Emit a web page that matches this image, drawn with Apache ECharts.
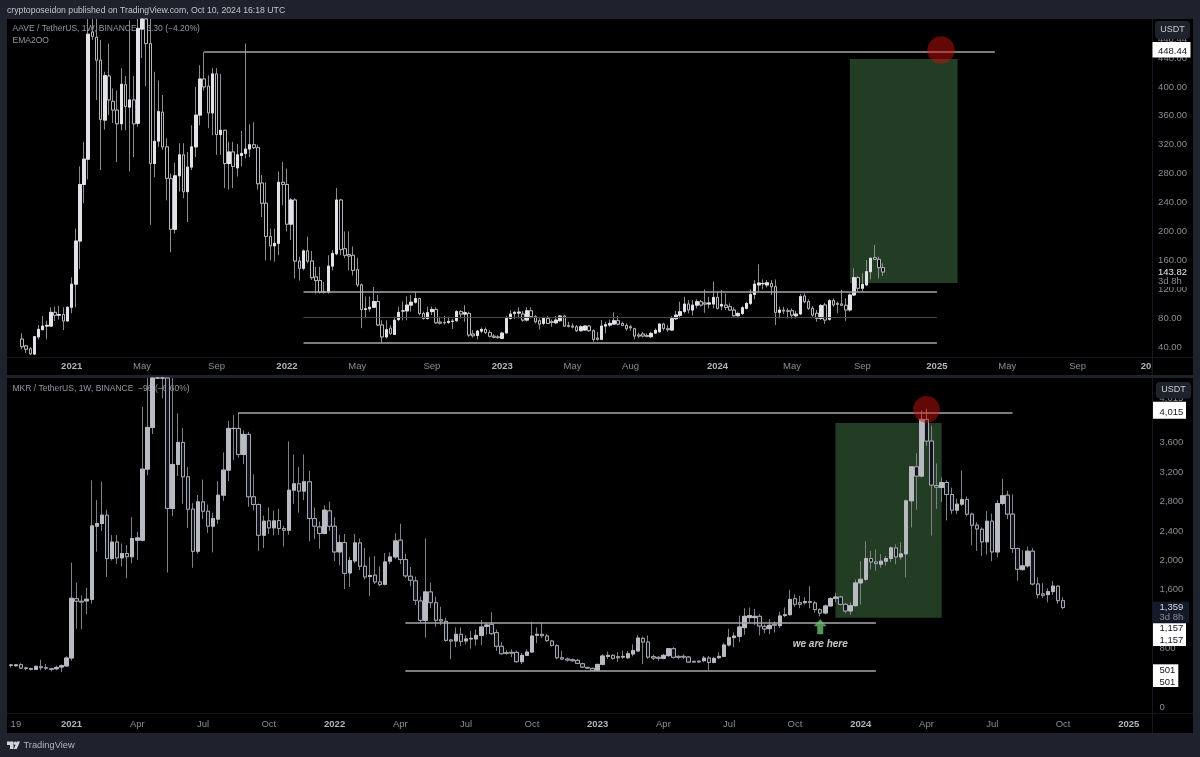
<!DOCTYPE html>
<html><head><meta charset="utf-8">
<style>html,body{margin:0;padding:0;background:#1e222d}#c{width:1200px;height:757px}</style>
<script src="https://cdn.jsdelivr.net/npm/echarts@6/dist/echarts.min.js"></script>
</head><body><div id="c"></div>
<script>
// [open, close, low, high], one weekly bar per row
const aaveAxisStart = '2020-09-21', aaveAxisWeeks = 276, aaveFirstBar = '2020-10-12';
const mkrAxisStart = '2020-10-12', mkrAxisWeeks = 226, mkrFirstBar = '2020-10-12';
const aaveCandles = [
[51,40.5,36.8,59],[41.5,37,32,43],[37.5,30.5,29,40],[30.3,54.3,29,54.5],[54,64.5,50.6,70.5],[64,69,63.5,83],[69,70,50.6,76.5],[69,88,68,95],[88,84,76,96],[84,85,78,96.8],[85,76,63.5,95],[76,95,76,96],[95,127,86.6,136.4],[127,186.7,95,204],[186.7,265,148,290],[265,300,239,324],[300,473,272,530],[476,470,465,540],[468.6,437,382,520],[437,355,285,465],[354,415.6,341,421],[415,382,361,460],[380,368,350,398],[368,349,296,395],[349,403.6,340,425.7],[403,373,340,415],[372,382,283,492],[382,349,303,415],[349.6,481,345,530],[480,510,440,560],[510,460,401,600],[460,294,209,520],[294,324.7,275,421],[325,365.8,317,409],[365,317,313,389],[317,273.5,243,329],[273,203,171,280],[203,277,197,295],[277,306,255,322],[306,255,246,322],[255,289,213,310],[289,317,285,347],[317,361,303,400],[361,411,347,430],[411,400,395,448.4],[401,364,343,416],[364,418,333,426],[418,334,306,426],[334,340,306,418],[340,294,260,340],[294,310,258,324],[310,290,260,324],[288,306,276,321],[305,308,290,339],[308,314,301,460],[314,320,303,348],[320,316,314,351],[316,266,258,320],[267,239,220,278],[239,193,160,268],[193,180,160,204],[180,183.5,158,204],[183.5,268,167,283],[268,265,236,296],[265,210,200,287],[210,243.5,188,246],[243.5,159,135,246],[159,149,132,165],[149,173,146,175],[173,159,156,193],[159,136,133,173],[137,132,114,151],[132,116,114,151],[117,116,114,130],[116,152,114,167],[152,169.6,146,174],[169,243.5,167,260],[243.5,175,167,245],[176,167,163,200],[168,166,146,200],[167,146,139,179],[147,126,123,163],[126,92,66,128],[92,93,80,110],[93,95,89,110],[95,103,95,123],[103,70.5,69,112],[70.5,54,46,77],[54,64,52,77],[66,59,56.5,70],[57.5,77,57,82],[78,88,76,96],
[90,90,77,103],[90,98,77,110],[98,102,89,112],[102,107,100,116.5],[107,86.5,84,108],[86.5,79.6,78,89],[79.6,87.5,78,96],[89,92,84,96],[92,73.6,71.8,95],[74.5,73,71,82],[74,73.6,71,83],[74,75.5,72,82],[75.5,75.8,65,79],[76.5,89,75,91],[89,85.6,79.6,91],[85.6,87.5,75,98],[86.5,56.6,54,89],[58,55.6,53,63.5],[56,62,50.6,63.5],[62,64.4,59,67],[64.4,60,58,67],[60,55,53,63.5],[55,53.5,52,58],[54,53,51.5,56.6],[52,59.3,51,61],[59.5,79.6,59,83],[79.6,85.6,78,91],[86.5,88,78.7,90],[87,88.4,79.6,95],[85.6,77.3,75,90],[77.3,90.2,75.5,95],[90.2,82,79.6,95],[82,75,72.7,84.2],[76.4,71.8,64.4,79.6],[72.7,79.6,70.4,82],[79.6,72.7,71.8,83],[75,74,68,78],[73.6,77.3,71.8,83],[76.4,82.9,75,84],[82.9,69,68,84],[70,68.6,67,75],[69,67.6,65.8,72.7],[68,62.6,60.7,70.4],[62.6,68,61.6,70],[63.5,69,63,70],[69,62.6,61,70.4],[62.6,50.6,47.3,64.4],[52.4,50.6,48.7,61],[50.6,69,49.7,77.3],[69,70.9,58.9,75],[70.4,72.7,68,78],[71.8,76.4,70.9,88],[76.4,71.8,70,83],[72.7,70,69,75],[70,65.3,62.6,72.7],[68,66.7,62.6,70.4],[65.3,55.2,50.6,66.7],[56.6,55.2,52.4,59.8],[58,55.2,53.3,60.7],[56,54.7,53.3,58.9],[54.3,58.9,52.4,61],[59.3,63,58,65.8],[61,71.8,59.8,72.7],[71.8,65.8,62.6,73.6],[65.3,64,61,70.4],[63.5,79.2,62,82.9],[79.2,84.2,77.3,90.2],[83.8,88.9,79.6,102.7],[89.3,99.5,86.5,109.6],[99.5,91.2,86.5,105],[91.2,98,83.8,105],[98,102.7,93.5,106],[102.7,98,95.8,105],[101,99.5,87.5,119.8],[99.5,101,93.5,109.6],[99.5,108.7,93.5,130.4],[108.7,93.5,92,116.5],[96.7,99,91.2,118.8],[98,94.8,91,114],[95.8,91.2,90.2,100.4],[91.2,83.3,82,94.8],[83.3,86.5,82,88.9],[86.5,94.4,84.2,96.7],[93.5,100.4,92,102.7],[100.4,112.8,98,119.8],[112.8,127,106,132.7],[126,128.5,116.5,154.4],[127.5,128,119.8,133.6],[125.8,129,122.5,132.7],[128,123.5,111.9,132.7],[123.5,88,70.4,133.6],[88,91.2,79.6,95.8],[91,89.8,85.6,95.8],[90,89.8,79.6,93.5],[90.2,84.2,79.6,93.5],[83.3,85.6,79.6,90.2],
[85.7,109.7,84.3,113.4],[110.6,102.8,100.5,114.3],[102.8,93.6,91.3,106],[93.6,84.4,82.1,96.8],[86.7,79.7,75.1,91.3],[79.7,97.3,77.4,99.6],[98.2,77.4,71.9,101.4],[78.4,104.2,76.5,106],[104.2,98.2,95.9,107.4],[100.5,99.1,86.7,102.8],[99.6,97.8,96.8,119],[97.8,91.3,76.5,107.4],[91.3,112,89,114.3],[112,136,110.6,149],[136,121.3,116.7,138.3],[121.3,126.8,116.7,142],[125.9,144.3,124.5,160.5],[144.3,162.8,133.7,164.2],[163.7,161.4,160.5,181.2],[161.4,149.9,135,165],[149.9,143.82,138.3,155.9]
];
const mkrCandles = [
[575,577,541,586],[568,580,555,590],[582,536,523,600],[538,530,505,555],[530,518,505,543],[518,559,510,572],[555,541,505,650],[541,535,510,590],[527,518,490,540],[527,545,505,570],[550,568,480,585],[565,673,550,695],[673,1485,635,1970],[1480,1445,1070,1700],[1445,1435,1065,1525],[1450,1472,1270,1630],[1470,2470,1415,3090],[2466,2502,2120,2820],[2502,2616,2400,3070],[2616,2025,1776,2690],[2025,2250,2000,2345],[2250,2035,1950,2345],[2035,2094,1920,2230],[2094,2050,1760,2210],[2050,2298,1960,2590],[2275,2307,2010,2390],[2275,3242,2260,4090],[3242,3810,3160,4480],[3810,4520,3720,4900],[4520,5400,4480,5700],[5400,5300,4205,5950],[5300,2706,1835,5600],[2706,3306,2600,4600],[3306,3606,3150,4000],[3606,3138,2770,3800],[3138,2698,2440,3270],[2698,2125,1900,2780],[2125,2797,2090,2890],[2797,2670,2560,3100],[2670,2466,2375,2760],[2466,2570,2110,2650],[2562,2888,2500,3080],[2888,3229,2810,3470],[3229,3796,3080,3900],[3796,3796,3365,3978],[3796,3442,3400,4015],[3442,3715,3310,3770],[3715,2866,2730,3750],[2866,2761,2680,3170],[2761,2343,2130,2775],[2343,2534,2170,2610],[2538,2443,2360,2720],[2443,2538,2340,2680],[2543,2434,2350,2700],[2434,2411,2190,2470],[2411,2956,2350,3620],[2956,3043,2770,3440],[3043,2943,2650,3270],[2943,3070,2820,3440],[3070,2570,2260,3220],[2570,2466,2290,2720],[2457,2366,2160,2530],[2366,2684,2360,2750],[2675,2466,2400,2800],[2466,2116,1990,2590],[2116,2243,1935,2350],[2243,1825,1610,2360],[1830,2000,1640,2050],[1993,2239,1960,2360],[2239,1921,1870,2300],[1921,1776,1740,2170],[1780,1796,1515,2050],[1800,1708,1680,2060],[1708,1671,1650,1920],[1676,1980,1660,2100],[1990,2048,1950,2110],[2048,2266,2020,2370],[2276,2012,1950,2500],
[2012,1790,1760,2094],[1785,1731,1650,1910],[1722,1458,1395,1780],[1449,1186,1160,1510],[1186,1572,950,2300],[1572,1426,1350,1700],[1426,1186,1100,1510],[1195,1177,1120,1370],[1172,913,895,1220],[918,905,655,930],[905,995,820,1090],[995,900,835,1090],[905,932,860,980],[932,940,800,1040],[932,981,840,1060],[981,1095,850,1190],[1104,1122,990,1150],[1131,1004,990,1295],[1018,832,770,1060],[832,732,720,890],[745,736,715,780],[750,740,685,790],[750,623,610,770],[623,709,590,740],[709,754,700,790],[754,972,750,1165],[982,995,875,1090],[995,977,945,1150],[972,909,890,1000],[904,845,830,920],[841,677,655,860],[677,659,650,770],[659,645,625,680],[650,636,620,665],[641,600,590,660],[595,550,535,610],[545,536,525,555],[532,505,495,545],[505,586,505,595],[586,700,575,725],[695,709,660,760],[709,668,650,725],[691,677,620,750],[686,695,660,775],[677,732,660,770],[728,773,695,860],[768,945,760,985],[940,890,590,965],[890,686,660,980],[691,673,645,720],[682,668,635,700],[668,709,655,730],[705,800,690,810],[800,682,665,820],[695,682,655,710],[695,686,660,725],[686,618,605,700],[627,618,610,635],[630,620,605,640],[636,672,615,700],[672,613,510,700],[613,668,600,690],[677,695,660,750],[695,850,685,880],[850,950,830,1070],[950,972,820,1020],[968,1095,890,1250],[1086,1240,990,1350],[1222,1250,1150,1360],[1222,1240,1120,1340],[1240,1108,980,1270],[1104,1068,1010,1130],[1072,1118,1000,1200],[1131,1118,1020,1170],[1113,1245,1080,1300],[1250,1262,1230,1360],
[1262,1470,1250,1600],[1480,1403,1370,1540],[1426,1403,1350,1520],[1426,1440,1400,1500],[1440,1430,1350,1650],[1422,1331,1290,1450],[1331,1285,1240,1350],[1285,1381,1265,1400],[1381,1481,1375,1500],[1485,1503,1430,1560],[1503,1403,1390,1520],[1403,1313,1280,1420],[1313,1385,1260,1430],[1385,1694,1370,1740],[1694,1744,1403,1990],[1744,2026,1720,2260],[2026,1980,1880,2130],[1980,1958,1860,2150],[1949,1990,1900,2085],[1990,2026,1930,2060],[2026,2171,1980,2190],[2171,2048,1950,2220],[2048,2089,2010,2250],[2089,2811,1770,2830],[2811,3274,2450,3285],[3274,3147,2690,3460],[3147,3919,3130,4040],[3919,3624,3560,4065],[3624,3025,2340,3830],[3020,2997,2700,3320],[2993,3061,2795,3130],[3061,2897,2545,3090],[2897,2684,2630,2990],[2684,2766,2630,2840],[2766,2830,2740,3225],[2830,2630,2600,2870],[2630,2480,2205,2650],[2480,2430,2130,2520],[2425,2253,2065,2450],[2253,2534,2080,2670],[2534,2116,1990,2640],[2116,2775,2040,2820],[2775,2880,2750,3110],[2888,2630,2560,2950],[2630,2162,2100,2900],[2162,1880,1725,2175],[1875,1926,1865,2140],[1926,2126,1900,2190],[2126,1680,1660,2170],[1680,1535,1485,1770],[1545,1526,1490,1690],[1535,1576,1430,1620],[1576,1650,1530,1720],[1650,1453,1410,1660],[1453,1359,1340,1500]
];
const aaveTimeTicks = {'2021-01-04':'2021','2021-05-03':'May','2021-09-06':'Sep','2022-01-03':'2022','2022-05-02':'May','2022-09-05':'Sep','2023-01-02':'2023','2023-05-01':'May','2023-08-07':'Aug','2024-01-01':'2024','2024-05-06':'May','2024-09-02':'Sep','2025-01-06':'2025','2025-05-05':'May','2025-09-01':'Sep','2025-12-29':'20'};
const mkrTimeTicks = {'2020-10-19':'19','2021-01-04':'2021','2021-04-05':'Apr','2021-07-05':'Jul','2021-10-04':'Oct','2022-01-03':'2022','2022-04-04':'Apr','2022-07-04':'Jul','2022-10-03':'Oct','2023-01-02':'2023','2023-04-03':'Apr','2023-07-03':'Jul','2023-10-02':'Oct','2024-01-01':'2024','2024-04-01':'Apr','2024-07-01':'Jul','2024-10-07':'Oct','2025-01-06':'2025'};
const aavePriceTicks = [40,80,120,160,200,240,280,320,360,400,440];
const mkrPriceTicks = [0,400,800,1200,1600,2000,2400,2800,3200,3600,4000];
// levels: [startWeek, endWeek, price, weight]
const aaveLevels = [['2021-08-16','2025-04-14',448.44,1.5],['2022-01-31','2025-01-06',116,1.5],['2022-01-31','2025-01-06',81,0.7],['2022-01-31','2025-01-06',46,1.5]];
const mkrLevels = [['2021-08-23','2024-07-29',4015,1.5],['2022-04-11','2024-01-22',1157,1.5],['2022-04-11','2024-01-22',501,1.5]];
const aaveBox = ['2024-08-12','2025-02-10',438.6,128.6];
const mkrBox = ['2023-11-27','2024-04-22',3869,1222];
const aaveCircle = ['2025-01-13',451];
const mkrCircle = ['2024-04-01',4056];
const mkrArrow = ['2023-11-06',1097];
const mkrNote = ['2023-11-06',858,'we are here'];

const FONT = '"Liberation Sans", Arial, sans-serif';
const C = {frame:'#1e222d', pane:'#000000', sep:'#14171d', axis:'#8a8d95', year:'#b2b5be', title:'#9598a1'};

function weeks(start, n){
  const out=[]; const t0=Date.parse(start+'T00:00:00Z');
  for(let i=0;i<n;i++) out.push(new Date(t0+i*7*864e5).toISOString().slice(0,10));
  return out;
}
function align(cats, first, rows){
  const off=cats.indexOf(first);
  return cats.map((c,i)=> (i>=off && rows[i-off]) ? rows[i-off] : '-');
}
// candlestick series do not clip to the grid: drop what lies above the pane, cap the rest at its top
const capAt = top => r => { if(r==='-'||r[2]>=top) return '-'; return r.map(v=>Math.min(v,top)); };
const bodyOnly = r => r==='-' ? '-' : [r[0],r[1],Math.min(r[0],r[1]),Math.max(r[0],r[1])];

function panel(ix, cats, first, rows, levels, box, circle, top, st){
  const data=align(cats,first,rows).map(capAt(top));
  return [
   {type:'candlestick',xAxisIndex:ix,yAxisIndex:ix,data:data,barWidth:st.bar,silent:true,z:2,
    itemStyle:{color:'transparent',color0:'transparent',borderColor:st.wick,borderColor0:st.wick,borderWidth:1},
    markArea:{silent:true,z:1,itemStyle:{color:'#223d23'},data:[[{coord:[box[0],box[2]]},{coord:[box[1],box[3]]}]]}
   },
   {type:'candlestick',xAxisIndex:ix,yAxisIndex:ix,data:data.map(bodyOnly),barWidth:st.bar,silent:true,z:3,
    itemStyle:{color:st.up,color0:st.down,borderColor:st.up,borderColor0:st.border0,borderWidth:1},
    markLine:{silent:true,symbol:'none',z:5,label:{show:false},
      data:levels.map(l=>[{coord:[l[0],l[2]],lineStyle:{color:l[3]<1?'#4a4a4a':'#a6a7aa',width:l[3]<1?1:l[3],type:'solid'}},{coord:[l[1],l[2]]}])}
   },
   {type:'scatter',xAxisIndex:ix,yAxisIndex:ix,data:[circle],symbol:'circle',symbolSize:st.circle,silent:true,z:8,clip:false,
    itemStyle:{color:'rgba(205,18,14,0.6)'}}
  ];
}
const aaveCats=weeks(aaveAxisStart,aaveAxisWeeks), mkrCats=weeks(mkrAxisStart,mkrAxisWeeks);

function xAxis(ix,cats,ticks,margin){
  return {type:'category',gridIndex:ix,data:cats,boundaryGap:true,
    axisLine:{show:false},axisTick:{show:false},splitLine:{show:false},
    axisLabel:{show:true,hideOverlap:false,margin:margin,fontFamily:FONT,fontSize:9.5,color:C.axis,
      interval:(i,v)=>ticks[v]!==undefined,
      formatter:v=>{const t=ticks[v]; if(t==='20') return '{cut|20}'; return /^\d{4}$/.test(t)?'{yr|'+t+'}':t;},
      rich:{yr:{fontFamily:FONT,fontSize:9.5,fontWeight:700,color:C.year},cut:{fontFamily:FONT,fontSize:9.5,fontWeight:700,color:C.year,padding:[0,4,0,0]}}}};
}
function yAxis(ix,min,max,ticks,fmt){
  return {type:'value',gridIndex:ix,position:'right',min:min,max:max,scale:true,
    axisLine:{show:false},axisTick:{show:false},splitLine:{show:false},
    axisLabel:{show:true,margin:8,fontFamily:FONT,fontSize:9.5,color:C.axis,customValues:ticks,formatter:fmt,showMinLabel:true,showMaxLabel:true}};
}
function txt(x,y,text,fill,size,extra){
  return {type:'text',x:x,y:y,z:(extra&&extra.z)||60,silent:true,
    style:{text:text,fill:fill,font:((extra&&extra.w)||'400')+' '+size+'px '+FONT,textVerticalAlign:'middle',textAlign:(extra&&extra.align)||'left'}};
}
function rect(x,y,w,h,fill,z,r){return {type:'rect',z:z,silent:true,shape:{x:x,y:y,width:w,height:h,r:r||0},style:{fill:fill}};}
function line(x1,y1,x2,y2,c,z){return {type:'line',z:z,silent:true,shape:{x1:x1,y1:y1,x2:x2,y2:y2},style:{stroke:c,lineWidth:1}};}

const graphics=[
 rect(7,19,1186,356,C.pane,-20), rect(7,378,1186,355,C.pane,-20),
 line(1152.5,19,1152.5,375,C.sep,-15), line(7,357.5,1193,357.5,C.sep,-15),
 line(1152.5,378,1152.5,733,C.sep,-15), line(7,713.5,1193,713.5,C.sep,-15),
 txt(7,10.5,'cryptoposeidon published on TradingView.com, Oct 10, 2024 16:18 UTC','#c3c5cb',8.7),
 txt(12.5,29,'AAVE / TetherUS, 1W, BINANCE  −6.30 (−4.20%)',C.title,8.5,{z:-5}),
 txt(12.5,41,'EMA2OO',C.title,8.5,{z:-5}),
 txt(12.5,389,'MKR / TetherUS, 1W, BINANCE  −96 (−6.60%)',C.title,8.5,{z:-5}),
 // scale buttons
 rect(1155,21,35,18,'#1e222d',70,4), txt(1172.5,30,'USDT','#c8cad0',9,{z:71,align:'center'}),
 rect(1156,382,35,16.5,'#1e222d',70,4), txt(1173.5,390,'USDT','#c8cad0',9,{z:71,align:'center'}),
 // price tags, AAVE
 txt(1158,39.5,'448.44',C.axis,9.5,{z:65}),
 rect(1152.5,42,38,15.5,'#ffffff',70), txt(1158,51,'448.44','#131722',9.5,{z:71}),
 rect(1153,265,36,22,'#000000',68), txt(1158,272,'143.82','#e6e7ea',9.5,{z:71}), txt(1158,281.5,'3d 8h',C.axis,9.5,{z:71}),
 // price tags, MKR
 txt(1159.5,398.5,'4,015',C.axis,9.5,{z:65}),
 rect(1153,401.7,33,17,'#ffffff',70), txt(1159.5,412.3,'4,015','#131722',9.5,{z:71}),
 rect(1153,601.7,36,21,'#131a2a',70), txt(1159.5,607,'1,359','#d8dae0',9.5,{z:71}), txt(1159.5,617,'3d 8h',C.axis,9.5,{z:71}),
 rect(1153,623.3,33,22.7,'#ffffff',70), txt(1159.5,628.5,'1,157','#131722',9.5,{z:71}), txt(1159.5,640,'1,157','#131722',9.5,{z:71}),
 rect(1153,664.3,25.3,22.7,'#ffffff',70), txt(1159.5,670.3,'501','#131722',9.5,{z:71}), txt(1159.5,682,'501','#131722',9.5,{z:71}),
 // footer brand
 {type:'polygon',z:60,silent:true,shape:{points:[[7,741.5],[13.5,741.5],[13.5,749],[10,749],[10,745],[7,745]]},style:{fill:'#d1d4dc'}},
 {type:'circle',z:60,silent:true,shape:{cx:15.4,cy:743.3,r:1.7},style:{fill:'#d1d4dc'}},
 {type:'polygon',z:60,silent:true,shape:{points:[[20,741.5],[16.8,749],[13.8,749],[17,741.5]]},style:{fill:'#d1d4dc'}},
 txt(23.5,745.5,'TradingView','#b2b5be',9.3)
];

const aaveStyle={bar:3,up:'#e2e3e8',down:'#000000',border0:'#b4b5ba',wick:'#8c8d91',circle:27.4};
const mkrStyle={bar:4,up:'#b9bbc2',down:'#10131c',border0:'#a5a8b0',wick:'#7f8188',circle:26.6};
const aaveAxisMax=494, mkrAxisMax=4482;

const series=[].concat(
  panel(0,aaveCats,aaveFirstBar,aaveCandles,aaveLevels,aaveBox,aaveCircle,aaveAxisMax,aaveStyle),
  panel(1,mkrCats,mkrFirstBar,mkrCandles,mkrLevels,mkrBox,mkrCircle,mkrAxisMax,mkrStyle),
  [{type:'scatter',xAxisIndex:1,yAxisIndex:1,data:[mkrArrow],silent:true,z:9,symbolSize:[13,15],
    symbol:'path://M6.5 0 L13 7 L9.5 7 L9.5 15 L3.5 15 L3.5 7 L0 7 Z',itemStyle:{color:'#67bd6d'}},
   {type:'scatter',xAxisIndex:1,yAxisIndex:1,data:[mkrNote],silent:true,z:9,symbolSize:1,itemStyle:{color:'transparent'},
    label:{show:true,position:'inside',formatter:p=>p.value[2],color:'#f5f5f5',fontFamily:FONT,fontSize:10,fontStyle:'italic',fontWeight:700}}]
);

const chart=echarts.init(document.getElementById('c'),null,{renderer:'canvas',width:1200,height:757});
chart.setOption({
  animation:false,backgroundColor:C.frame,
  grid:[{left:7.5,top:19,width:1142.6,height:338,containLabel:false},{left:8.3,top:378,width:1143.3,height:335.5,containLabel:false}],
  xAxis:[xAxis(0,aaveCats,aaveTimeTicks,4),xAxis(1,mkrCats,mkrTimeTicks,6)],
  yAxis:[yAxis(0,26.2,aaveAxisMax,aavePriceTicks,v=>Number(v).toFixed(2)),
         yAxis(1,-82,mkrAxisMax,mkrPriceTicks,v=>Number(v).toLocaleString('en-US'))],
  graphic:{elements:graphics},
  series:series
});
</script></body></html>
